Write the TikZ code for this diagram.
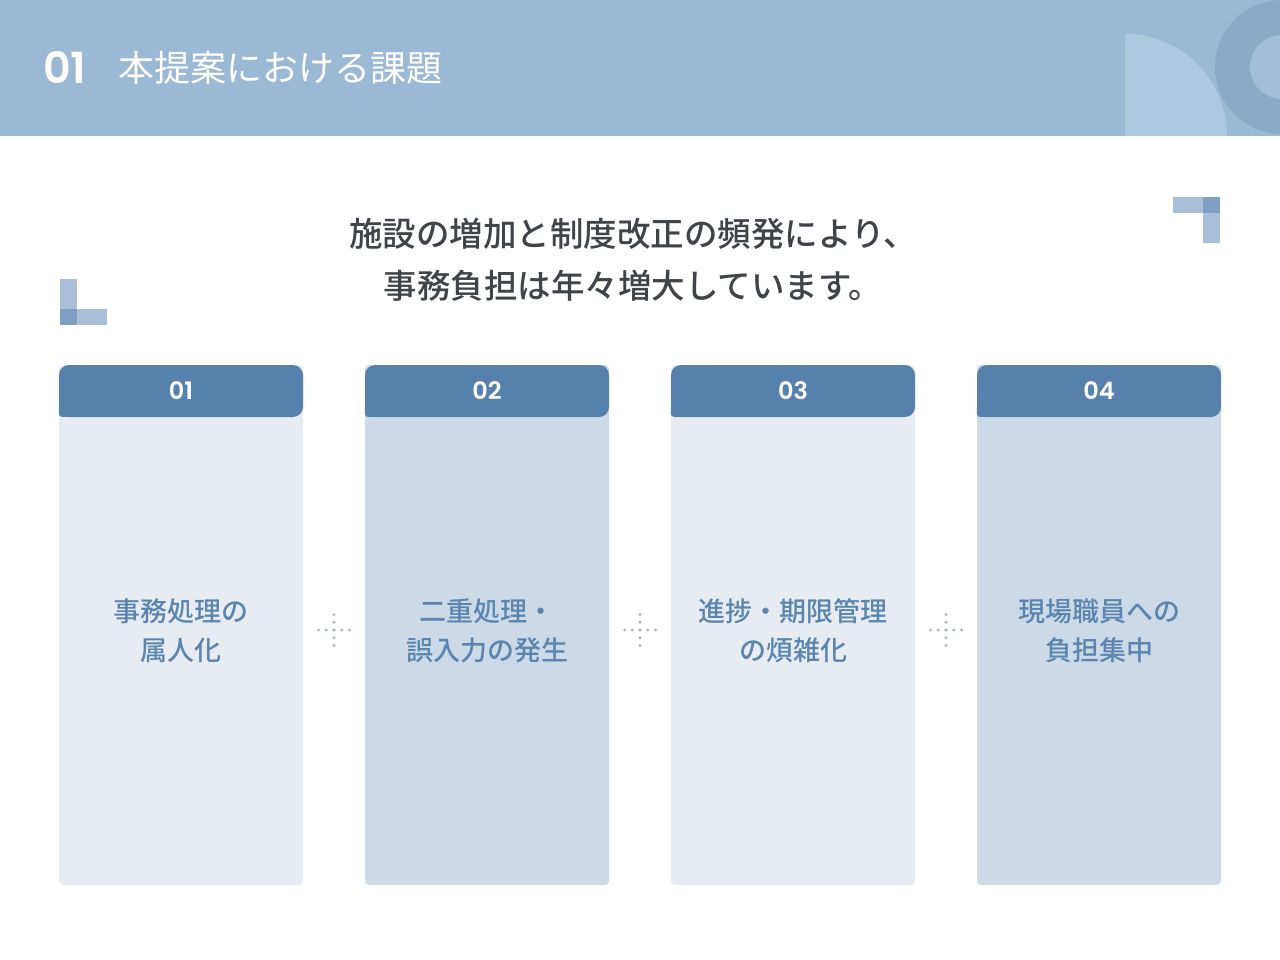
\documentclass[tikz,border=0pt]{standalone}
\usepackage{fontspec}
\setmainfont{Noto Sans CJK JP}
\newfontfamily\midfont{Noto Sans CJK JP Medium}
\newfontfamily\tabfont{Poppins SemiBold}
\usetikzlibrary{positioning}

\definecolor{headbg}{HTML}{9BB8D5}
\definecolor{headlight}{HTML}{ADC8DF}
\definecolor{headring}{HTML}{8AAAC8}
\definecolor{headinner}{HTML}{A4BED7}
\definecolor{tabblue}{HTML}{5681AD}
\definecolor{cardpale}{HTML}{E6ECF2}
\definecolor{carddeep}{HTML}{CCDAE7}
\definecolor{cardtext}{HTML}{5B84AF}
\definecolor{leadtext}{HTML}{404348}
\definecolor{markpale}{HTML}{A9C0D8}
\definecolor{markdeep}{HTML}{7F9FC2}
\definecolor{dotgray}{HTML}{A9B4BF}

\tikzset{
	cardbox/.style={shape=rectangle, rounded corners=4pt, minimum width=244pt, minimum height=520pt, inner sep=0pt},
	tabbox/.style={shape=rectangle, fill=tabblue, rounded corners=10pt, minimum width=244pt, minimum height=52pt, inner sep=0pt, text=white, font=\tabfont\fontsize{24}{24}\selectfont},
	cardlabel/.style={text=cardtext, align=center, font=\midfont\fontsize{27}{39}\selectfont},
	dotmark/.style={fill=dotgray, shape=circle, minimum size=3.2pt, inner sep=0pt}
}

\begin{document}
\begin{tikzpicture}[x=1pt, y=-1pt]
	\useasboundingbox (0, 0) rectangle (1280, 960);
	\fill[white] (0, 0) rectangle (1280, 960);

	% header band
	\fill[headbg] (0, 0) rectangle (1280, 136);
	\begin{scope}
		\clip (0, 0) rectangle (1280, 136);
		\begin{scope}
			\clip (1125, 0) rectangle (1280, 136);
			\fill[headlight] (1125, 136) circle[radius=102pt];
		\end{scope}
		\fill[headring] (1282, 67) circle[radius=67pt];
		\fill[headinner] (1282, 67) circle[radius=32pt];
	\end{scope}
	\node[anchor=west, text=white, inner sep=0pt, font=\tabfont\fontsize{43}{43}\selectfont] (secno) at (43, 68) {01};
	\node[anchor=west, text=white, inner sep=0pt, font=\fontsize{36}{36}\selectfont] (sectitle) at (118, 68) {本提案における課題};

	% corner marks
	\fill[markpale] (1173, 197) rectangle (1220, 213);
	\fill[markpale] (1203, 213) rectangle (1220, 243);
	\fill[markdeep] (1203, 197) rectangle (1220, 213);
	\fill[markpale] (60, 279) rectangle (77, 309);
	\fill[markpale] (60, 309) rectangle (107, 325);
	\fill[markdeep] (60, 309) rectangle (77, 325);

	% lead text
	\node[text=leadtext, align=center, font=\midfont\fontsize{33.5}{52}\selectfont] (lead) at (633, 260)
		{施設の増加と制度改正の頻発により、\\事務負担は年々増大しています。};

	% cards
	\node[cardbox, fill=cardpale] (card1) at (181, 625) {};
	\node[cardbox, fill=carddeep] (card2) at (487, 625) {};
	\node[cardbox, fill=cardpale] (card3) at (793, 625) {};
	\node[cardbox, fill=carddeep] (card4) at (1099, 625) {};

	\foreach \i in {1, 2, 3, 4} {
		\fill[tabblue, rounded corners=3pt] (card\i.north west) ++(0, 40) rectangle ++(14, 12);
	}
	\node[tabbox, below=0pt of card1.north] (tab1) {01};
	\node[tabbox, below=0pt of card2.north] (tab2) {02};
	\node[tabbox, below=0pt of card3.north] (tab3) {03};
	\node[tabbox, below=0pt of card4.north] (tab4) {04};

	\node[cardlabel] (text1) at (181, 631) {事務処理の\\属人化};
	\node[cardlabel] (text2) at (487, 631) {二重処理・\\誤入力の発生};
	\node[cardlabel] (text3) at (793, 631) {進捗・期限管理\\の煩雑化};
	\node[cardlabel] (text4) at (1099, 631) {現場職員への\\負担集中};

	% dotted crosses between cards
	\foreach \gx in {334, 640, 946} {
		\foreach \d in {-15.4, -7.7, 0, 7.7, 15.4} {
			\node[dotmark] at (\gx + \d, 630) {};
			\node[dotmark] at (\gx, 630 + \d) {};
		}
	}
\end{tikzpicture}
\end{document}
